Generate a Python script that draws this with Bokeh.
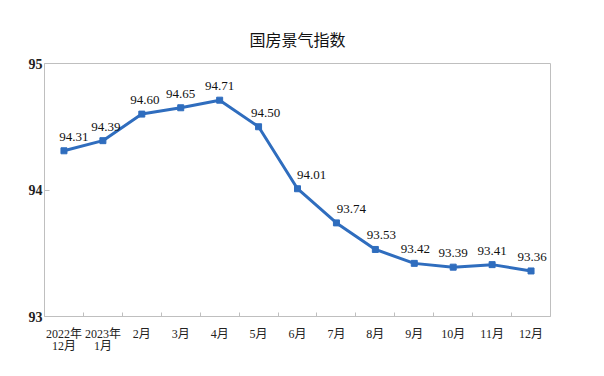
from bokeh.plotting import figure
from bokeh.models import ColumnDataSource, FixedTicker, Range1d
from bokeh.core.properties import value
from bokeh.embed import file_html
from bokeh.resources import INLINE

# ---- data ----
months = ["2022年\n12月", "2023年\n1月", "2月", "3月", "4月", "5月", "6月",
          "7月", "8月", "9月", "10月", "11月", "12月"]
index_values = [94.31, 94.39, 94.60, 94.65, 94.71, 94.50, 94.01,
                93.74, 93.53, 93.42, 93.39, 93.41, 93.36]
y_ticks = [93, 94, 95]

# ---- style (label nudges in px) ----
label_dx = [10, 3, 3, 0, 0, 7, 14, 15, 6, 1, 0, 0, 1]

n = len(months)
xs = [i + 0.5 for i in range(n)]
src = ColumnDataSource(dict(
    x=xs, y=index_values,
    txt=[f"{v:.2f}" for v in index_values],
    dx=label_dx,
))

p = figure(width=588, height=356, output_backend="svg", toolbar_location=None,
           x_range=Range1d(0, n), y_range=Range1d(93, 95),
           min_border_left=44, min_border_right=38,
           min_border_top=63, min_border_bottom=40,
           title="国房景气指数")

p.title.align = "center"
p.title.text_font = "Noto Sans CJK SC"
p.title.text_font_size = "16px"
p.title.text_font_style = "normal"
p.title.text_color = "#111111"
p.title.standoff = 25

p.outline_line_color = "#BFBFBF"
p.outline_line_width = 1
p.grid.visible = False
p.background_fill_color = "white"
p.border_fill_color = "white"

# x axis
p.xaxis.ticker = FixedTicker(ticks=xs, minor_ticks=list(range(1, n)))
p.xaxis.major_label_overrides = {x: m for x, m in zip(xs, months)}
p.xaxis.major_tick_line_color = None
p.xaxis.minor_tick_line_color = "#BFBFBF"
p.xaxis.minor_tick_in = 4
p.xaxis.minor_tick_out = 0
p.xaxis.axis_line_color = "#BFBFBF"
p.xaxis.major_label_text_font = "Liberation Serif, Noto Sans CJK SC"
p.xaxis.major_label_text_font_size = "12px"
p.xaxis.major_label_text_line_height = 0.9
p.xaxis.major_label_text_color = "#222222"
p.xaxis.major_label_standoff = 4
p.xaxis.major_label_orientation = "horizontal"

# y axis
p.yaxis.ticker = FixedTicker(ticks=y_ticks, minor_ticks=[])
p.yaxis.axis_line_color = None
p.yaxis.major_tick_line_color = "#BFBFBF"
p.yaxis.major_tick_in = 5
p.yaxis.major_tick_out = 0
p.yaxis.minor_tick_line_color = None
p.yaxis.major_label_text_font = "Liberation Serif"
p.yaxis.major_label_text_font_style = "bold"
p.yaxis.major_label_text_font_size = "14px"
p.yaxis.major_label_text_color = "#222222"
p.yaxis.major_label_standoff = 2

blue = "#2F6DBE"
p.line("x", "y", source=src, line_color=blue, line_width=3)
p.scatter("x", "y", source=src, marker="square", size=6,
          fill_color=blue, line_color=blue)
p.text("x", "y", text="txt", source=src, x_offset="dx", y_offset=-14,
       text_font=value("Liberation Serif"), text_font_size="13px",
       text_color="#111111", text_align="center", text_baseline="middle")

open("out.html", "w").write(file_html(p, INLINE))
